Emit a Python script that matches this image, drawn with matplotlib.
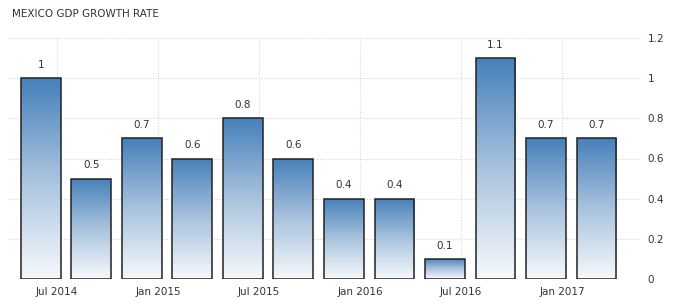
import matplotlib
matplotlib.use("Agg")
import matplotlib.pyplot as plt
import numpy as np
from matplotlib.patches import Rectangle
from matplotlib.colors import LinearSegmentedColormap

title = "MEXICO GDP GROWTH RATE"
values = [1.0, 0.5, 0.7, 0.6, 0.8, 0.6, 0.4, 0.4, 0.1, 1.1, 0.7, 0.7]
value_labels = ["1", "0.5", "0.7", "0.6", "0.8", "0.6", "0.4", "0.4", "0.1", "1.1", "0.7", "0.7"]
tick_labels = ["Jul 2014", "Jan 2015", "Jul 2015", "Jan 2016", "Jul 2016", "Jan 2017"]
tick_bar_index = [0, 2, 4, 6, 8, 10]
yticks = [0, 0.2, 0.4, 0.6, 0.8, 1, 1.2]
ytick_labels = ["0", "0.2", "0.4", "0.6", "0.8", "1", "1.2"]

fig = plt.figure(figsize=(6.8, 3.05), dpi=100)
ax = fig.add_axes([8/680, 26/305, (642-8)/680, (279-38)/305])

n = len(values)
x = np.arange(n)
width = 0.79
ax.set_xlim(-0.65, n - 1 + 0.9)
ax.set_ylim(0, 1.2)

cmap = LinearSegmentedColormap.from_list("g", ["#f6f9fc", "#a9c3de", "#4680bb"])
grad = np.linspace(0, 1, 256).reshape(-1, 1)

for xi, v in zip(x, values):
    l = xi - width/2
    r = xi + width/2
    im = ax.imshow(grad, extent=[l, r, 0, v], origin="lower", aspect="auto",
                   cmap=cmap, zorder=2, interpolation="bilinear")
    rect = Rectangle((l, 0), width, v, facecolor="none", edgecolor="#222222",
                     linewidth=1.1, zorder=3)
    ax.add_patch(rect)
    im.set_clip_path(rect)

for xi, v, lab in zip(x, values, value_labels):
    ax.annotate(lab, (xi, v), xytext=(0, 6), textcoords="offset points",
                ha="center", va="bottom", fontsize=7.5, color="#333333")

tick_pos = [x[i] + 0.32 for i in tick_bar_index]
ax.set_xticks(tick_pos)
ax.set_xticklabels(tick_labels, fontsize=7.5, color="#333333")
ax.yaxis.tick_right()
ax.set_yticks(yticks)
ax.set_yticklabels(ytick_labels, fontsize=7.5, color="#333333")
ax.tick_params(axis="both", length=0, pad=4)
ax.tick_params(axis="x", pad=6)

ax.grid(True, linestyle=(0, (1, 1.5)), color="#d6d6d6", linewidth=0.8, zorder=0)
ax.set_axisbelow(True)
for s in ax.spines.values():
    s.set_visible(False)

fig.text(12/680, 1 - 14/305, title, fontsize=7.5, color="#333333", ha="left", va="center")

fig.savefig("out.png", dpi=100)
